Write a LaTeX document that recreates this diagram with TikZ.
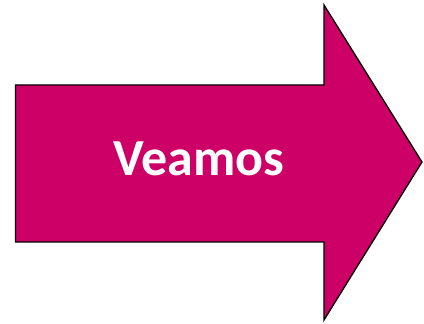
\documentclass[tikz,border=0pt]{standalone}
\usepackage{fontspec}
\setmainfont{Carlito}
\usetikzlibrary{calc}

\definecolor{arrowPink}{RGB}{204,0,102}

\begin{document}
\begin{tikzpicture}[x=1pt,y=1pt]
\tikzset{
	arrowBody/.style={fill=arrowPink, draw=black, line width=1.3pt, line join=miter},
	arrowText/.style={text=white, font=\bfseries\fontsize{52}{60}\selectfont}
}
\useasboundingbox (0,0) rectangle (424,324);

% arrow outline
\draw[arrowBody]
	(15.5,82) -- (15.5,239) -- (324,239) -- (324,319) --
	(422,162) -- (324,4) -- (324,82) -- cycle;

\node[arrowText] (veamos) at (199,165) {Veamos};
\end{tikzpicture}
\end{document}
